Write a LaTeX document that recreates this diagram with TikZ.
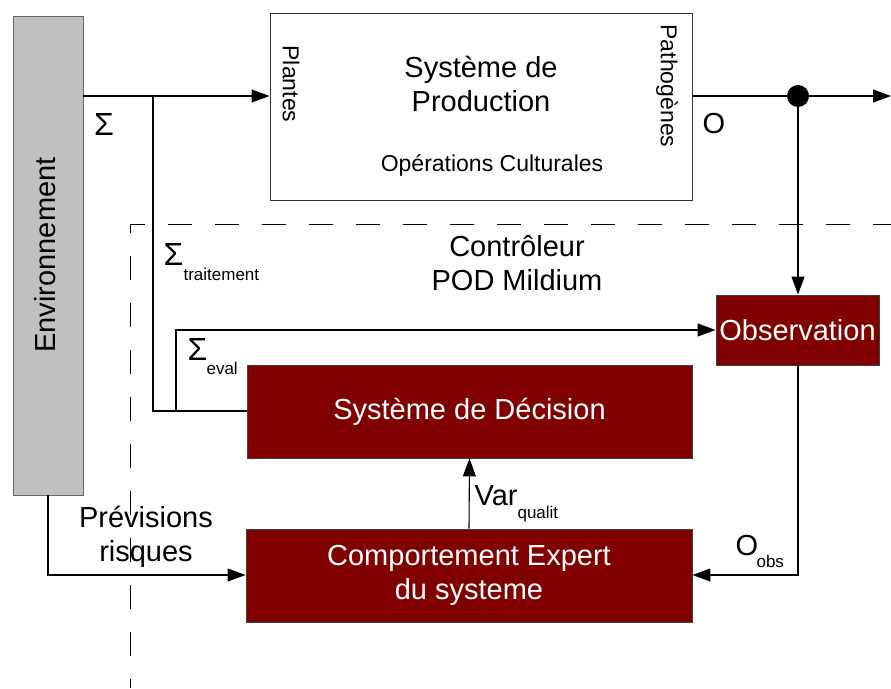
\documentclass[tikz,border=0pt]{standalone}
\usepackage{fontspec}
\setmainfont{Liberation Sans}
\usetikzlibrary{arrows.meta,calc}
\definecolor{dred}{HTML}{800000}
\definecolor{envgray}{HTML}{C0C0C0}
\newcommand\fbig{\fontsize{29}{34}\selectfont}
\newcommand\fsig{\fontsize{32}{36}\selectfont}
\newcommand\fsmall{\fontsize{23}{28}\selectfont}
\newcommand\fsub{\fontsize{17}{20}\selectfont}
\begin{document}
\begin{tikzpicture}[x=1pt,y=-1pt,
  line width=1.1pt,
  arr/.style={-{Triangle[length=18pt,width=13pt]}},
  redbox/.style={draw=black!75,line width=0.9pt,fill=dred,text=white,font=\fbig,
    inner sep=0pt,align=center},
  lbl/.style={inner sep=0pt,font=\fbig,align=center},
  sublbl/.style={inner sep=0pt,font=\fsub,anchor=base west},
  ctrl/.style={dash pattern=on 24pt off 23pt,dash phase=15pt,line width=0.9pt}]
\useasboundingbox (0,0) rectangle (891,688);
\fill[white] (0,0) rectangle (891,688);

% controller dashed region
\draw[ctrl] (130,688) -- (130,224) -- (891,224);

% boxes
\node[draw=black!60,line width=0.9pt,fill=envgray,minimum width=70pt,minimum height=479pt,inner sep=0pt]
  (env) at (48,255.5) {};
\node[lbl,rotate=90] (envtxt) at (45,255) {Environnement};

\node[draw=black!80,line width=0.9pt,fill=white,minimum width=422pt,minimum height=187pt,inner sep=0pt]
  (prod) at (481,106.5) {};
\node[lbl] (prodtxt) at (481,84) {Système de\\Production};
\node[lbl,font=\fsmall] (opc) at (492,165) {Opérations Culturales};
\node[lbl,font=\fsmall,rotate=-90] (plantes) at (291,84) {Plantes};
\node[lbl,font=\fsmall,rotate=-90] (patho) at (667,86) {Pathogènes};

\node[redbox,minimum width=163pt,minimum height=70pt] (obs) at (797.5,330) {Observation};
\node[redbox,minimum width=445pt,minimum height=93pt] (dec) at (469.5,411.5) {Système de Décision};
\node[redbox,minimum width=446pt,minimum height=93pt] (comp) at (469,575.5) {Comportement Expert\\du systeme};

\node[lbl] (ctrltxt) at (517,263) {Contrôleur\\POD Mildium};

% coordinates
\coordinate (s0) at (83,96);
\coordinate (s1) at (153,96);
\coordinate (s2) at (153,411);
\coordinate (e1) at (176,411);
\coordinate (e2) at (176,330);
\coordinate (o0) at (692,96);
\coordinate (oend) at (891,96);
\coordinate (p0) at (48,495);
\coordinate (p1) at (48,575);
\coordinate (q1) at (798,575);

% connectors
\draw[arr] (s0) -- (prod.west |- s0);
\draw (s1) -- (s2) -- (dec.west |- s2);
\draw[arr] (e1) -- (e2) -- (obs.west |- e2);
\draw[arr] (o0) -- (oend);
\fill (798,96) circle (11pt) coordinate (dot);
\draw[arr] (dot) -- (dot |- obs.north);
\draw[arr] (obs.south -| dot) -- (q1) -- (comp.east |- q1);
\draw[arr] (p0) -- (p1) -- (comp.west |- p1);
\draw[arr] (comp.north) -- (dec.south);

% labels
\node[lbl,font=\fsig] (sig) at (104,124) {Σ};
\node[lbl] (olbl) at (714,124) {O};
\node[inner sep=0pt,font=\fsig,anchor=base west] (sigt) at (163,265) {Σ};
\node[sublbl] (trt) at (183,280) {traitement};
\node[inner sep=0pt,font=\fsig,anchor=base west] (sige) at (187,360) {Σ};
\node[sublbl] (evl) at (206,374) {eval};
\node[inner sep=0pt,font=\fbig,anchor=base west] (var) at (474,505) {Var};
\node[sublbl] (qual) at (517,518) {qualit};
\node[inner sep=0pt,font=\fbig,anchor=base west] (oo) at (735,555) {O};
\node[sublbl] (obsl) at (756,567) {obs};
\node[lbl] (prev) at (146,537) {Prévisions\\risques};
\end{tikzpicture}
\end{document}
